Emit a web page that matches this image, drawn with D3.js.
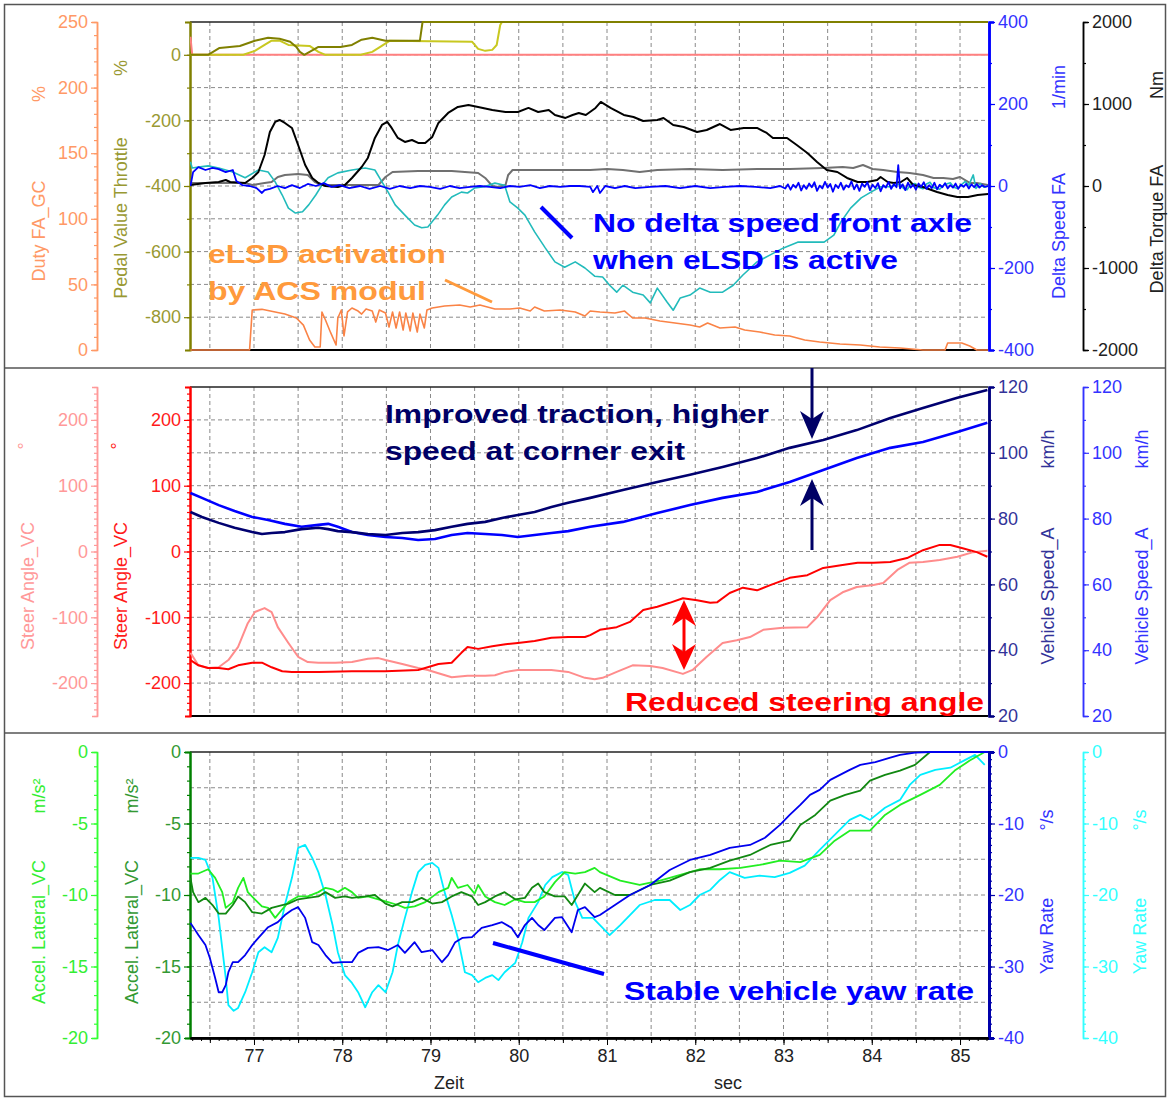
<!DOCTYPE html>
<html>
<head>
<meta charset="utf-8">
<script src="https://cdn.jsdelivr.net/npm/d3@7"></script>
<style>
  html, body { margin: 0; padding: 0; background: #fff; }
  svg text { font-family: "Liberation Sans", Arial, sans-serif; }
</style>
</head>
<body>
<svg id="chart" width="1170" height="1101"></svg>
<script>
// ---------- time base ----------
const timeDomain = [76.275, 85.317];
const timeTicks = [77, 78, 79, 80, 81, 82, 83, 84, 85];

// ---------- panel 1: eLSD / front axle ----------
// Duty FA_GC [%]
const dutyFA = [[76.28,0],[76.95,0],[76.98,30.5],[77.09,31],[77.24,29],[77.35,27.4],[77.48,24.4],[77.56,19],[77.63,7.6],[77.69,2.3],[77.75,2.3],[77.77,29],[77.81,22.9],[77.87,13],[77.93,3.8],[77.95,24.4],[77.99,30.5],[78.02,10.7],[78.06,29],[78.11,32],[78.18,29.7],[78.22,27.4],[78.27,31.3],[78.34,29.7],[78.38,21.3],[78.42,30.5],[78.49,28.2],[78.53,17.5],[78.57,29],[78.61,16.8],[78.65,29],[78.69,15.2],[78.72,28.2],[78.77,14.5],[78.80,28.2],[78.85,13.7],[78.88,27.4],[78.93,16.8],[78.96,30.5],[79.02,32],[79.16,33.5],[79.33,34.3],[79.45,32.8],[79.56,34.3],[79.73,31.3],[79.90,31.3],[80.01,32],[80.13,29.7],[80.18,32.8],[80.29,29.7],[80.47,30.5],[80.64,29],[80.75,25.9],[80.81,29.7],[80.92,29],[81.09,28.2],[81.20,29.7],[81.29,24.4],[81.43,24.4],[81.60,22.1],[81.77,20.6],[81.94,19],[82.05,17.5],[82.14,20.6],[82.28,16.8],[82.45,17.5],[82.56,15.2],[82.73,13.7],[82.90,11.4],[83.07,10.7],[83.24,7.6],[83.41,6.1],[83.64,4.6],[83.87,3.8],[84.09,2.3],[84.32,1.5],[84.58,0],[84.83,0],[84.86,5.3],[85.02,5.3],[85.11,3],[85.19,0],[85.32,0]];
// Pedal Value Throttle [%], two runs
const pedalRunA = [[76.28,0],[76.48,0],[76.61,21],[76.84,27],[77.01,43],[77.16,52],[77.29,49],[77.41,40],[77.48,24],[77.52,9],[77.57,0],[77.63,9],[77.73,24],[77.98,24],[78.11,30],[78.22,46],[78.34,52],[78.49,43],[78.88,43],[78.91,100],[85.32,100]];
const pedalRunB = [[76.28,0],[76.88,0],[77.01,12],[77.12,30],[77.20,43],[77.29,43],[77.39,30],[77.63,27],[77.73,9],[77.81,0],[78.21,0],[78.34,9],[78.43,24],[78.54,43],[79.47,40],[79.54,18],[79.62,12],[79.70,15],[79.75,30],[79.79,91],[79.81,100],[85.32,100]];
const brakePedal = [[76.28,55],[76.30,0],[85.32,0]];
// Delta Speed FA [1/min], eLSD run and base run
const deltaSpeedFA = [[76.28,0],[76.31,34],[76.37,46],[76.45,39],[76.53,44],[76.60,41],[76.68,34],[76.76,39],[76.80,12],[76.87,2],[76.95,0],[77.03,-5],[77.09,-17],[77.12,-10],[77.18,-7],[77.27,0],[77.35,-5],[77.43,2],[77.52,-5],[77.61,5],[77.70,0],[77.79,7],[77.88,-2],[77.97,2],[78.08,-5],[78.20,0],[78.31,-7],[78.43,0],[78.54,-7],[78.65,0],[78.77,-5],[78.88,0],[78.99,-2],[79.11,-7],[79.22,0],[79.33,-5],[79.45,-2],[79.56,0],[79.67,-2],[79.79,-5],[79.90,0],[80.01,-2],[80.13,2],[80.24,-5],[80.35,0],[80.47,-2],[80.58,0],[80.69,0],[80.81,-2],[80.84,-15],[80.89,0],[80.92,-17],[80.98,0],[81.09,-5],[81.20,0],[81.32,-5],[81.49,-2],[81.66,0],[81.83,-5],[82.00,0],[82.17,-5],[82.34,-2],[82.51,0],[82.68,-2],[82.85,-5],[82.96,0],[83.02,-6],[83.05,4],[83.08,-9],[83.11,3],[83.14,-4],[83.17,8],[83.20,-11],[83.23,2],[83.26,-7],[83.29,6],[83.32,-3],[83.35,9],[83.38,-12],[83.41,1],[83.44,-6],[83.47,10],[83.50,-4],[83.53,5],[83.56,-14],[83.59,3],[83.62,-5],[83.65,8],[83.68,-9],[83.71,2],[83.74,-3],[83.77,11],[83.80,-8],[83.83,4],[83.86,-12],[83.89,6],[83.92,-2],[83.95,9],[83.98,-10],[84.01,3],[84.04,-5],[84.07,7],[84.10,-13],[84.13,2],[84.16,-4],[84.19,10],[84.22,-7],[84.25,5],[84.28,-3],[84.30,51],[84.32,-6],[84.35,4],[84.38,-10],[84.41,8],[84.44,-4],[84.47,3],[84.50,-9],[84.53,6],[84.56,-2],[84.59,9],[84.62,-7],[84.65,2],[84.68,-5],[84.71,8],[84.74,-8],[84.77,3],[84.80,-3],[84.83,7],[84.86,-6],[84.89,2],[84.92,-4],[84.95,6],[84.98,-7],[85.01,3],[85.04,-2],[85.07,5],[85.10,-6],[85.13,4],[85.16,-3],[85.19,5],[85.22,-4],[85.25,2],[85.28,-2],[85.32,0]];
const deltaSpeedBase = [[76.28,59],[76.30,44],[76.37,46],[76.48,49],[76.60,44],[76.76,34],[76.90,20],[77.05,39],[77.16,34],[77.24,10],[77.32,-22],[77.39,-54],[77.47,-66],[77.55,-63],[77.62,-46],[77.70,-22],[77.77,2],[77.84,20],[77.95,32],[78.11,39],[78.26,44],[78.37,39],[78.45,10],[78.52,-15],[78.60,-46],[78.71,-71],[78.82,-95],[78.90,-102],[78.97,-100],[79.08,-71],[79.16,-46],[79.24,-27],[79.35,-15],[79.42,-17],[79.50,-5],[79.61,-2],[79.73,7],[79.84,2],[79.90,-39],[79.99,-54],[80.07,-71],[80.18,-112],[80.30,-151],[80.41,-185],[80.52,-198],[80.64,-185],[80.75,-200],[80.86,-220],[80.95,-222],[81.03,-242],[81.11,-259],[81.18,-242],[81.29,-259],[81.41,-266],[81.49,-285],[81.57,-249],[81.68,-283],[81.75,-303],[81.83,-273],[81.94,-266],[82.05,-249],[82.17,-259],[82.31,-259],[82.43,-242],[82.54,-217],[82.70,-185],[82.85,-168],[83.00,-151],[83.16,-137],[83.31,-137],[83.46,-137],[83.57,-120],[83.65,-88],[83.76,-54],[83.88,-29],[83.99,-15],[84.10,-2],[84.21,-2],[84.32,5],[84.36,-6],[84.40,-9],[84.44,4],[84.49,6],[84.53,-3],[84.58,-7],[84.62,5],[84.66,9],[84.70,-4],[84.77,-8],[84.82,3],[84.89,8],[84.93,-3],[84.97,-6],[85.02,4],[85.06,11],[85.10,2],[85.15,27],[85.18,-6],[85.23,6],[85.27,-3],[85.32,0]];
// Delta Torque FA [Nm], eLSD run and base run
const deltaTorqueFA = [[76.28,12],[76.45,37],[76.60,49],[76.68,73],[76.73,49],[76.90,37],[76.98,98],[77.05,171],[77.12,378],[77.18,659],[77.24,781],[77.29,805],[77.35,769],[77.43,708],[77.50,500],[77.58,256],[77.66,98],[77.73,37],[77.81,0],[77.95,-12],[78.03,12],[78.11,98],[78.22,232],[78.29,342],[78.37,586],[78.45,744],[78.51,781],[78.56,708],[78.63,586],[78.71,537],[78.79,561],[78.86,525],[78.94,525],[79.02,598],[79.09,769],[79.20,891],[79.31,964],[79.43,988],[79.54,964],[79.70,927],[79.85,903],[79.99,903],[80.11,952],[80.22,903],[80.34,927],[80.41,866],[80.53,830],[80.61,866],[80.68,891],[80.76,866],[80.87,952],[80.93,1025],[81.04,952],[81.19,866],[81.30,842],[81.41,793],[81.57,805],[81.64,830],[81.75,744],[81.87,720],[82.02,659],[82.13,683],[82.28,756],[82.40,683],[82.55,708],[82.70,708],[82.81,647],[82.88,586],[83.04,586],[83.15,500],[83.27,403],[83.38,293],[83.49,195],[83.61,171],[83.72,98],[83.84,49],[83.95,49],[84.06,73],[84.10,110],[84.18,49],[84.25,37],[84.33,49],[84.40,98],[84.47,12],[84.58,-12],[84.74,-73],[84.86,-110],[84.97,-134],[85.09,-134],[85.20,-110],[85.32,-98]];
const deltaTorqueBase = [[76.28,37],[76.60,37],[76.90,37],[76.98,12],[77.12,37],[77.20,49],[77.27,110],[77.35,134],[77.50,146],[77.61,134],[77.69,49],[77.77,12],[78.11,12],[78.41,12],[78.49,110],[78.57,171],[78.86,183],[79.24,183],[79.54,159],[79.62,98],[79.70,0],[79.77,-12],[79.85,12],[79.88,134],[79.93,195],[80.18,195],[80.56,195],[80.81,195],[81.00,207],[81.18,195],[81.37,171],[81.57,195],[81.94,207],[82.31,195],[82.70,207],[83.07,207],[83.45,220],[83.67,232],[83.79,220],[83.90,256],[84.01,207],[84.13,195],[84.29,171],[84.43,159],[84.58,134],[84.70,98],[84.81,98],[84.92,85],[85.00,110],[85.11,37],[85.19,37],[85.32,12]];

// ---------- panel 2: speed and steering ----------
const speedELSD = [[76.28,82.0],[76.41,80.5],[76.60,78.7],[76.78,77.2],[76.98,75.9],[77.09,75.3],[77.20,75.6],[77.35,75.9],[77.54,76.8],[77.73,77.2],[77.84,76.8],[77.95,76.2],[78.11,75.9],[78.29,75.3],[78.49,75.0],[78.68,75.6],[78.86,75.9],[79.05,76.5],[79.24,77.5],[79.42,78.4],[79.62,79.0],[79.81,80.2],[79.99,81.1],[80.18,82.0],[80.37,83.5],[80.56,84.8],[80.81,86.3],[81.18,88.7],[81.57,91.1],[81.94,93.3],[82.31,95.7],[82.70,98.4],[83.07,101.5],[83.45,103.9],[83.83,106.9],[84.21,110.6],[84.58,113.6],[84.97,116.7],[85.31,119.1]];
const speedBase = [[76.28,87.8],[76.41,86.3],[76.60,84.1],[76.78,82.3],[76.98,80.5],[77.16,79.6],[77.35,78.4],[77.54,77.5],[77.73,78.1],[77.84,78.4],[77.95,77.5],[78.11,75.9],[78.29,75.0],[78.49,74.4],[78.68,74.1],[78.86,73.5],[79.05,73.8],[79.24,75.0],[79.42,75.6],[79.62,75.3],[79.81,75.0],[79.99,74.4],[80.18,75.0],[80.37,75.6],[80.56,76.2],[80.81,77.5],[81.18,79.0],[81.57,81.7],[81.94,84.1],[82.31,86.3],[82.70,88.1],[83.07,91.1],[83.45,94.8],[83.83,98.4],[84.21,101.5],[84.58,103.3],[84.97,106.3],[85.31,109.1]];
const steerELSD = [[76.28,-165],[76.37,-173],[76.48,-177],[76.60,-177],[76.71,-179],[76.82,-173],[76.98,-169],[77.09,-169],[77.20,-176],[77.32,-182],[77.43,-183],[77.73,-183],[78.11,-182],[78.49,-182],[78.86,-180],[78.94,-177],[79.09,-171],[79.24,-169],[79.35,-154],[79.42,-145],[79.54,-148],[79.70,-144],[79.85,-141],[79.99,-139],[80.18,-136],[80.37,-131],[80.56,-130],[80.75,-130],[80.81,-127],[80.92,-119],[81.11,-115],[81.26,-107],[81.41,-89],[81.57,-84],[81.71,-78],[81.86,-71],[82.02,-74],[82.17,-78],[82.25,-77],[82.39,-63],[82.54,-55],[82.70,-59],[82.85,-51],[83.07,-40],[83.27,-36],[83.45,-25],[83.65,-21],[83.84,-17],[84.02,-17],[84.21,-16],[84.40,-10],[84.58,2],[84.77,10],[84.89,10],[85.03,5],[85.19,-1],[85.31,-8]];
const steerBase = [[76.28,-154],[76.37,-173],[76.48,-177],[76.60,-176],[76.71,-165],[76.82,-145],[76.93,-109],[77.01,-92],[77.12,-86],[77.20,-92],[77.27,-115],[77.39,-139],[77.50,-160],[77.61,-168],[77.73,-169],[77.92,-169],[78.11,-168],[78.29,-163],[78.41,-162],[78.49,-165],[78.68,-171],[78.86,-177],[78.97,-180],[79.09,-185],[79.24,-191],[79.42,-189],[79.62,-189],[79.73,-188],[79.85,-183],[79.99,-180],[80.18,-180],[80.37,-180],[80.56,-183],[80.75,-192],[80.86,-194],[80.95,-192],[81.11,-183],[81.29,-173],[81.49,-174],[81.63,-177],[81.86,-186],[81.97,-180],[82.13,-160],[82.31,-139],[82.47,-135],[82.62,-130],[82.77,-119],[82.99,-116],[83.27,-115],[83.38,-100],[83.53,-74],[83.67,-62],[83.83,-54],[84.02,-51],[84.13,-48],[84.29,-28],[84.43,-17],[84.58,-16],[84.77,-13],[84.97,-8],[85.15,-1],[85.31,1]];

// ---------- panel 3: lateral acceleration and yaw rate ----------
const accelBase = [[76.28,-8.5],[76.37,-8.5],[76.48,-8.2],[76.56,-8.8],[76.64,-9.8],[76.68,-10.9],[76.76,-10.5],[76.82,-9.5],[76.88,-8.8],[76.93,-9.8],[77.01,-10.3],[77.09,-10.8],[77.16,-10.9],[77.24,-11.6],[77.32,-11.0],[77.39,-10.5],[77.50,-10.1],[77.61,-10.1],[77.73,-9.8],[77.81,-9.5],[77.89,-9.6],[77.95,-9.8],[78.03,-9.5],[78.11,-9.8],[78.18,-10.2],[78.29,-10.1],[78.41,-10.3],[78.52,-10.5],[78.63,-10.7],[78.71,-10.9],[78.82,-10.8],[78.94,-10.5],[79.09,-9.8],[79.20,-9.5],[79.24,-8.8],[79.31,-9.5],[79.42,-9.3],[79.50,-9.9],[79.54,-9.3],[79.62,-10.1],[79.73,-10.5],[79.84,-10.7],[79.96,-10.3],[80.07,-10.5],[80.18,-10.5],[80.29,-10.1],[80.41,-9.1],[80.52,-8.4],[80.64,-8.5],[80.75,-8.4],[80.86,-8.1],[80.92,-8.4],[81.15,-9.0],[81.37,-9.3],[81.60,-9.0],[81.83,-8.6],[82.05,-8.2],[82.28,-8.2],[82.51,-8.1],[82.73,-7.9],[82.96,-7.6],[83.19,-7.7],[83.41,-7.2],[83.58,-6.2],[83.75,-5.5],[83.98,-5.5],[84.15,-4.4],[84.32,-3.7],[84.55,-3.0],[84.77,-2.3],[84.94,-1.3],[85.11,-0.6],[85.28,0]];
const accelELSD = [[76.28,-8.8],[76.31,-9.8],[76.37,-10.5],[76.45,-10.2],[76.53,-10.7],[76.60,-11.3],[76.68,-11.3],[76.76,-10.7],[76.82,-10.1],[76.90,-10.5],[76.98,-11.2],[77.09,-11.3],[77.20,-10.9],[77.32,-10.7],[77.39,-10.6],[77.50,-10.3],[77.61,-10.2],[77.73,-10.1],[77.81,-9.8],[77.92,-10.2],[78.03,-10.1],[78.11,-10.2],[78.26,-10.1],[78.37,-10.0],[78.49,-10.6],[78.57,-10.8],[78.68,-10.5],[78.79,-10.5],[78.90,-10.2],[79.02,-10.6],[79.13,-10.5],[79.24,-10.1],[79.35,-9.8],[79.47,-10.1],[79.54,-10.7],[79.62,-10.5],[79.73,-10.1],[79.84,-9.8],[79.96,-10.3],[80.07,-10.2],[80.15,-9.5],[80.22,-9.2],[80.29,-9.8],[80.41,-10.1],[80.52,-10.1],[80.60,-10.7],[80.67,-10.0],[80.75,-9.2],[80.86,-9.8],[80.92,-9.5],[81.09,-10.0],[81.26,-10.0],[81.49,-9.3],[81.71,-9.0],[81.94,-8.4],[82.17,-8.1],[82.39,-7.6],[82.62,-7.2],[82.85,-6.5],[83.07,-6.2],[83.19,-5.1],[83.36,-4.4],[83.53,-3.4],[83.70,-3.0],[83.87,-2.7],[83.98,-2.0],[84.15,-1.6],[84.32,-1.3],[84.49,-0.9],[84.66,0],[85.32,0]];
const yawELSD = [[76.28,-23.9],[76.37,-25.6],[76.45,-27.0],[76.50,-28.8],[76.56,-31.6],[76.60,-33.6],[76.64,-33.6],[76.68,-32.6],[76.71,-30.8],[76.76,-29.4],[76.82,-29.4],[76.90,-28.4],[76.98,-27.0],[77.05,-26.0],[77.16,-24.5],[77.27,-23.8],[77.35,-22.8],[77.43,-22.1],[77.50,-21.7],[77.58,-23.2],[77.66,-26.6],[77.73,-27.0],[77.81,-28.4],[77.89,-29.5],[78.00,-29.4],[78.11,-29.4],[78.18,-28.1],[78.29,-27.4],[78.41,-27.3],[78.52,-27.7],[78.63,-27.0],[78.71,-28.1],[78.82,-26.6],[78.90,-28.0],[79.02,-27.7],[79.13,-29.4],[79.20,-28.4],[79.28,-26.6],[79.36,-26.0],[79.47,-25.9],[79.58,-24.6],[79.70,-24.2],[79.81,-23.8],[79.92,-24.6],[79.99,-25.9],[80.07,-24.2],[80.15,-23.2],[80.22,-24.2],[80.29,-24.9],[80.41,-23.2],[80.49,-23.1],[80.60,-25.2],[80.67,-22.1],[80.75,-21.7],[80.86,-23.1],[80.92,-22.8],[81.09,-21.4],[81.26,-20.0],[81.49,-18.6],[81.71,-16.5],[81.94,-15.1],[82.17,-14.4],[82.39,-13.4],[82.62,-13.0],[82.79,-12.0],[82.96,-10.2],[83.07,-8.8],[83.19,-7.4],[83.30,-6.0],[83.41,-5.3],[83.53,-3.9],[83.64,-3.2],[83.75,-2.5],[83.87,-1.8],[84.04,-1.4],[84.21,-0.8],[84.32,-0.4],[84.49,-0.1],[84.66,0],[85.32,0]];
const yawBase = [[76.28,-14.8],[76.37,-14.8],[76.45,-15.1],[76.53,-17.6],[76.60,-23.2],[76.68,-31.6],[76.71,-35.4],[76.77,-36.2],[76.82,-35.8],[76.90,-33.6],[76.98,-30.8],[77.05,-28.0],[77.12,-27.3],[77.20,-28.0],[77.27,-26.0],[77.35,-21.4],[77.43,-17.6],[77.50,-13.4],[77.58,-13.0],[77.66,-14.8],[77.73,-16.8],[77.81,-20.0],[77.89,-24.2],[77.95,-28.0],[78.03,-31.2],[78.11,-32.3],[78.18,-33.6],[78.26,-35.7],[78.34,-33.6],[78.41,-32.6],[78.49,-33.6],[78.57,-30.8],[78.63,-27.0],[78.71,-23.2],[78.79,-19.6],[78.86,-16.8],[78.94,-15.8],[79.02,-15.5],[79.09,-16.2],[79.16,-19.6],[79.24,-22.8],[79.31,-26.0],[79.39,-30.8],[79.47,-31.2],[79.54,-32.2],[79.62,-31.6],[79.70,-31.2],[79.77,-31.9],[79.84,-30.8],[79.96,-29.5],[80.04,-26.6],[80.11,-23.2],[80.22,-21.0],[80.30,-18.6],[80.38,-17.5],[80.49,-16.8],[80.56,-17.2],[80.64,-21.0],[80.72,-23.2],[80.84,-23.2],[80.92,-24.2],[81.03,-25.6],[81.15,-24.2],[81.26,-22.8],[81.37,-21.4],[81.54,-20.7],[81.71,-20.7],[81.83,-22.1],[81.94,-21.4],[82.05,-20.0],[82.17,-19.3],[82.28,-17.9],[82.39,-16.8],[82.56,-17.6],[82.73,-17.3],[82.90,-17.5],[83.07,-16.9],[83.24,-15.9],[83.41,-13.7],[83.58,-11.6],[83.75,-9.5],[83.87,-8.8],[83.98,-9.5],[84.15,-7.8],[84.32,-6.7],[84.43,-4.6],[84.55,-3.2],[84.72,-2.5],[84.89,-2.2],[85.06,-1.1],[85.17,-0.4],[85.28,-1.8]];

// ---------- drawing ----------
const svg = d3.select("#chart");
const FONT = "18px 'Liberation Sans', Arial, sans-serif";
const plotL = 190, plotR = 988;
const x = d3.scaleLinear().domain(timeDomain).range([plotL, plotR]);

const panels = [
  { top: 22, bottom: 350 },
  { top: 387, bottom: 716 },
  { top: 752, bottom: 1038 }
];

// outer frame and panel separators
svg.append("rect").attr("x", 4.5).attr("y", 4.5).attr("width", 1161).attr("height", 1092)
  .attr("fill", "none").attr("stroke", "#555").attr("stroke-width", 1.5);
[368, 733].forEach(yy => svg.append("line").attr("x1", 4).attr("x2", 1166)
  .attr("y1", yy).attr("y2", yy).attr("stroke", "#555").attr("stroke-width", 1.5));

// panel scales
const yDuty = d3.scaleLinear().domain([0, 250]).range([350, 22]);
const yPedal = d3.scaleLinear().domain([-900, 100]).range([350, 22]);
const yDSpeed = d3.scaleLinear().domain([-400, 400]).range([350, 22]);
const yTorque = d3.scaleLinear().domain([-2000, 2000]).range([350, 22]);
const ySteer = d3.scaleLinear().domain([-250, 250]).range([716, 387]);
const ySpeed = d3.scaleLinear().domain([20, 120]).range([716, 387]);
const yAccel = d3.scaleLinear().domain([-20, 0]).range([1038, 752]);
const yYaw = d3.scaleLinear().domain([-40, 0]).range([1038, 752]);

// grids
function grid(p, yScale, yVals) {
  const g = svg.append("g").attr("stroke", "#8a8a8a").attr("stroke-width", 1)
    .attr("stroke-dasharray", "4,3");
  d3.range(76.5, 85.01, 0.5).forEach(t => g.append("line")
    .attr("x1", x(t)).attr("x2", x(t)).attr("y1", p.top).attr("y2", p.bottom));
  yVals.forEach(v => g.append("line").attr("x1", plotL).attr("x2", plotR)
    .attr("y1", yScale(v)).attr("y2", yScale(v)));
}
grid(panels[0], yPedal, d3.range(-800, 1, 100));
grid(panels[1], ySteer, d3.range(-200, 201, 50));
grid(panels[2], yAccel, d3.range(-17.5, -2.4, 2.5));

// plot frames (top and bottom edges)
panels.forEach(p => {
  svg.append("line").attr("x1", plotL).attr("x2", plotR).attr("y1", p.top).attr("y2", p.top)
    .attr("stroke", "#222").attr("stroke-width", 1.5);
  svg.append("line").attr("x1", plotL).attr("x2", plotR).attr("y1", p.bottom).attr("y2", p.bottom)
    .attr("stroke", "#000").attr("stroke-width", 2);
});

// clip paths
panels.forEach((p, i) => {
  svg.append("clipPath").attr("id", "clip" + i).append("rect")
    .attr("x", plotL).attr("y", p.top - 1).attr("width", plotR - plotL).attr("height", p.bottom - p.top + 2);
});

function trace(data, yScale, color, width, panel) {
  const line = d3.line().x(d => x(d[0])).y(d => yScale(d[1]));
  svg.append("path").datum(data).attr("d", line).attr("fill", "none")
    .attr("stroke", color).attr("stroke-width", width).attr("stroke-linejoin", "round")
    .attr("clip-path", `url(#clip${panel})`);
}

// vertical axis helper
function vAxis(scale, xPos, side, lineColor, textColor, majors, minors, lineWidth) {
  const mk = side === "left" ? d3.axisLeft : d3.axisRight;
  const gm = svg.append("g").attr("transform", `translate(${xPos},0)`)
    .call(mk(scale).tickValues(minors).tickSize(3).tickSizeOuter(0).tickFormat(""));
  const g = svg.append("g").attr("transform", `translate(${xPos},0)`)
    .call(mk(scale).tickValues(majors).tickSize(6).tickSizeOuter(5).tickPadding(3).tickFormat(d => String(d)));
  [gm, g].forEach(gg => {
    gg.selectAll("line").attr("stroke", lineColor).attr("stroke-width", 1.2);
    gg.select(".domain").attr("stroke", lineColor).attr("stroke-width", lineWidth || 1.5);
  });
  g.selectAll("text").attr("fill", textColor).style("font", FONT);
}

function vTitle(text, cx, cy, color) {
  svg.append("text").attr("transform", `translate(${cx},${cy}) rotate(-90)`)
    .attr("text-anchor", "middle").attr("dominant-baseline", "central")
    .attr("fill", color).style("font", FONT).text(text);
}

// ----- panel 1 axes -----
vAxis(yDuty, 97, "left", "#ff9966", "#ff9966", d3.range(0, 251, 50), d3.range(0, 251, 10));
vTitle("Duty FA_GC", 39, 231, "#ff9966");
vTitle("%", 39, 94, "#ff9966");
vAxis(yPedal, 190, "left", "#808000", "#999933", d3.range(-800, 1, 200), d3.range(-900, 101, 100), 2);
vTitle("Pedal Value Throttle", 121, 218, "#999933");
vTitle("%", 121, 68, "#999933");
vAxis(yDSpeed, 989, "right", "#0000ff", "#3333ff", d3.range(-400, 401, 200), d3.range(-400, 401, 100), 2.5);
vTitle("Delta Speed FA", 1059, 236, "#3333ff");
vTitle("1/min", 1059, 87, "#3333ff");
vAxis(yTorque, 1083, "right", "#000", "#222", d3.range(-2000, 2001, 1000), d3.range(-2000, 2001, 500));
vTitle("Delta Torque FA", 1157, 229, "#222");
vTitle("Nm", 1157, 85, "#222");

// ----- panel 2 axes -----
vAxis(ySteer, 97, "left", "#ff9999", "#ff9999", d3.range(-200, 201, 100), d3.range(-250, 251, 10));
vTitle("Steer Angle_VC", 28, 586, "#ff9999");
vTitle("°", 25, 446, "#ff9999");
vAxis(ySteer, 190, "left", "#ff0000", "#ff1a1a", d3.range(-200, 201, 100), d3.range(-250, 251, 10), 2);
vTitle("Steer Angle_VC", 121, 586, "#ff1a1a");
vTitle("°", 118, 446, "#ff1a1a");
vAxis(ySpeed, 989, "right", "#000080", "#333399", d3.range(20, 121, 20), d3.range(20, 121, 10), 2.5);
vTitle("Vehicle Speed_A", 1048, 596, "#333399");
vTitle("km/h", 1048, 449, "#333399");
vAxis(ySpeed, 1083, "right", "#3333ff", "#3333ff", d3.range(20, 121, 20), d3.range(20, 121, 10));
vTitle("Vehicle Speed_A", 1142, 596, "#3333ff");
vTitle("km/h", 1142, 449, "#3333ff");

// ----- panel 3 axes -----
vAxis(yAccel, 97, "left", "#33ff33", "#33ee33", d3.range(-20, 1, 5), d3.range(-20, 1, 1));
vTitle("Accel. Lateral_VC", 39, 932, "#33ee33");
vTitle("m/s²", 39, 796, "#33ee33");
vAxis(yAccel, 190, "left", "#008000", "#339933", d3.range(-20, 1, 5), d3.range(-20, 1, 1), 2);
vTitle("Accel. Lateral_VC", 132, 932, "#339933");
vTitle("m/s²", 132, 796, "#339933");
vAxis(yYaw, 989, "right", "#0000aa", "#3333ff", d3.range(-40, 1, 10), d3.range(-40, 1, 1), 3);
vTitle("Yaw Rate", 1047, 936, "#3333ff");
vTitle("°/s", 1047, 820, "#3333ff");
vAxis(yYaw, 1083, "right", "#33ffff", "#33ffff", d3.range(-40, 1, 10), d3.range(-40, 1, 1));
vTitle("Yaw Rate", 1140, 936, "#33ffff");
vTitle("°/s", 1140, 820, "#33ffff");

// ----- time axis -----
const gxMin = svg.append("g").attr("transform", "translate(0,1038)")
  .call(d3.axisBottom(x).tickValues(d3.range(76.3, 85.31, 0.1)).tickSize(3).tickSizeOuter(0).tickFormat(""));
const gxMid = svg.append("g").attr("transform", "translate(0,1038)")
  .call(d3.axisBottom(x).tickValues(d3.range(76.5, 85.01, 0.5)).tickSize(5).tickSizeOuter(0).tickFormat(""));
const gx = svg.append("g").attr("transform", "translate(0,1038)")
  .call(d3.axisBottom(x).tickValues(timeTicks).tickSize(7).tickSizeOuter(0).tickPadding(4).tickFormat(d => String(d)));
[gxMin, gxMid, gx].forEach(g => {
  g.selectAll("line").attr("stroke", "#000");
  g.select(".domain").attr("stroke", "#000").attr("stroke-width", 2);
});
gx.selectAll("text").attr("fill", "#222").style("font", FONT);
svg.append("text").attr("x", 449).attr("y", 1089).attr("text-anchor", "middle")
  .attr("fill", "#222").style("font", FONT).text("Zeit");
svg.append("text").attr("x", 728).attr("y", 1089).attr("text-anchor", "middle")
  .attr("fill", "#222").style("font", FONT).text("sec");

// ----- traces -----
trace(brakePedal, yPedal, "#ff8080", 2, 0);
trace(pedalRunB, yPedal, "#c8c820", 2, 0);
trace(pedalRunA, yPedal, "#808000", 2, 0);
trace(dutyFA, yDuty, "#fa8346", 1.6, 0);
trace(deltaTorqueBase, yTorque, "#707070", 2, 0);
trace(deltaSpeedBase, yDSpeed, "#22bbbb", 1.6, 0);
trace(deltaTorqueFA, yTorque, "#000000", 2, 0);
trace(deltaSpeedFA, yDSpeed, "#0000ff", 1.8, 0);

trace(speedBase, ySpeed, "#0000ff", 2.6, 1);
trace(speedELSD, ySpeed, "#000070", 2.6, 1);
trace(steerBase, ySteer, "#ff8c8c", 2, 1);
trace(steerELSD, ySteer, "#ff0000", 2, 1);

trace(yawBase, yYaw, "#00eeff", 1.8, 2);
trace(accelBase, yAccel, "#22ee22", 1.8, 2);
trace(accelELSD, yAccel, "#118811", 1.8, 2);
trace(yawELSD, yYaw, "#0000ee", 1.8, 2);

// ----- annotations -----
function note(lines, xPos, color) {
  lines.forEach(l => svg.append("text").attr("x", xPos).attr("y", l.y)
    .attr("fill", color).attr("textLength", l.w).attr("lengthAdjust", "spacingAndGlyphs")
    .style("font", "bold 25.5px 'Liberation Sans', Arial, sans-serif").text(l.t));
}
note([{ t: "eLSD activation", y: 263, w: 238 }, { t: "by ACS modul", y: 300, w: 218 }], 208, "#ff9a3c");
svg.append("line").attr("x1", 445).attr("y1", 280).attr("x2", 492).attr("y2", 302)
  .attr("stroke", "#ff9a3c").attr("stroke-width", 3);

note([{ t: "No delta speed front axle", y: 232, w: 379 }, { t: "when eLSD is active", y: 269, w: 305 }], 593, "#0000ff");
svg.append("line").attr("x1", 541).attr("y1", 207).attr("x2", 572).attr("y2", 238)
  .attr("stroke", "#0000ff").attr("stroke-width", 4);

note([{ t: "Improved traction, higher", y: 423, w: 384 }, { t: "speed at corner exit", y: 460, w: 300 }], 385, "#000066");

// navy arrows pointing at both speed traces
svg.append("line").attr("x1", 812).attr("x2", 812).attr("y1", 368).attr("y2", 425)
  .attr("stroke", "#000066").attr("stroke-width", 3);
svg.append("path").attr("d", "M812,439 L800,411 L812,419 L824,411 Z").attr("fill", "#000066");
svg.append("line").attr("x1", 812).attr("x2", 812).attr("y1", 495).attr("y2", 550)
  .attr("stroke", "#000066").attr("stroke-width", 3);
svg.append("path").attr("d", "M812,479 L800,506 L812,498 L824,506 Z").attr("fill", "#000066");

// red double arrow between steering traces
svg.append("line").attr("x1", 684).attr("x2", 684).attr("y1", 615).attr("y2", 656)
  .attr("stroke", "#ff0000").attr("stroke-width", 3);
svg.append("path").attr("d", "M684,600 L672,626 L684,618 L696,626 Z").attr("fill", "#ff0000");
svg.append("path").attr("d", "M684,670 L672,644 L684,652 L696,644 Z").attr("fill", "#ff0000");
note([{ t: "Reduced steering angle", y: 711, w: 359 }], 625, "#ff0000");

note([{ t: "Stable vehicle yaw rate", y: 1000, w: 350 }], 624, "#0000ff");
svg.append("line").attr("x1", 493).attr("y1", 943).attr("x2", 604).attr("y2", 974)
  .attr("stroke", "#0000ff").attr("stroke-width", 4);
</script>
</body>
</html>
